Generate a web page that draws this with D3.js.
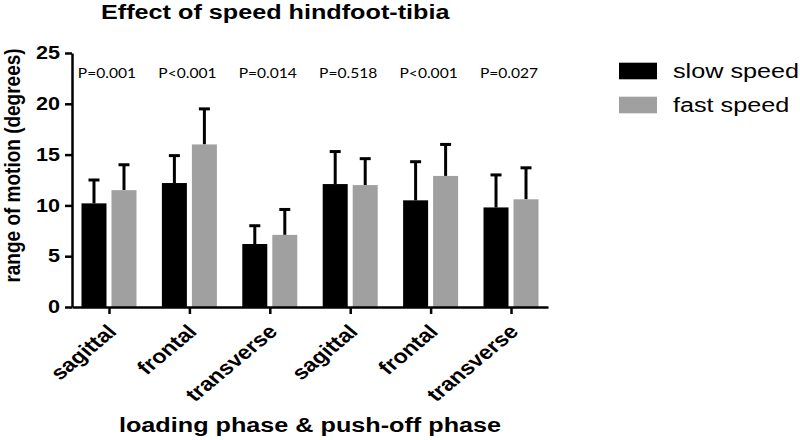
<!DOCTYPE html>
<html>
<head>
<meta charset="utf-8">
<script src="https://cdn.jsdelivr.net/npm/d3@7"></script>
<style>
  html, body { margin: 0; padding: 0; background: #fff; }
  svg { display: block; }
</style>
</head>
<body>
<svg id="chart" width="800" height="440"></svg>
<script>
// ---- data ----
const categories = ["sagittal", "frontal", "transverse", "sagittal", "frontal", "transverse"];
const seriesNames = ["slow speed", "fast speed"];
const slowValues = [10.2, 12.2, 6.2, 12.1, 10.5, 9.8];
const slowErrors = [2.3, 2.7, 1.8, 3.2, 3.8, 3.2];
const fastValues = [11.5, 16.0, 7.1, 12.0, 12.9, 10.6];
const fastErrors = [2.5, 3.5, 2.5, 2.6, 3.1, 3.1];
const pValues = ["P=0.001", "P<0.001", "P=0.014", "P=0.518", "P<0.001", "P=0.027"];
const yTicks = [0, 5, 10, 15, 20, 25];

const colors = { "slow speed": "#000000", "fast speed": "#a0a0a0" };
const FONT = "'Liberation Sans', Arial, sans-serif";
const SX = 1.2; // horizontal stretch of the reference image

const svg = d3.select("#chart");
const mLeft = 72, mRight = 548, mTop = 53, mBottom = 307;

const idx = d3.range(categories.length);
const x0 = d3.scalePoint().domain(idx).range([mLeft, mRight]).padding(0.46);
const x1 = d3.scaleBand().domain(seriesNames).range([-27.5, 27.5]).paddingInner(1/6);
const y = d3.scaleLinear().domain([0, 25]).range([mBottom, mTop]);

const rows = idx.map(i => ({
  i,
  series: [
    { name: "slow speed", v: slowValues[i], e: slowErrors[i] },
    { name: "fast speed", v: fastValues[i], e: fastErrors[i] }
  ]
}));

const g = svg.append("g");
const groups = g.selectAll("g.grp").data(rows).join("g")
  .attr("class", "grp")
  .attr("transform", d => `translate(${x0(d.i)},0)`);

groups.selectAll("g.err").data(d => d.series).join("g").attr("class", "err")
  .each(function(d) {
    const cx = x1(d.name) + x1.bandwidth() / 2;
    const sel = d3.select(this);
    sel.append("line")
      .attr("x1", cx).attr("x2", cx)
      .attr("y1", y(d.v)).attr("y2", y(d.v + d.e))
      .attr("stroke", "#000").attr("stroke-width", 3);
    sel.append("line")
      .attr("x1", cx - 5.5).attr("x2", cx + 5.5)
      .attr("y1", y(d.v + d.e)).attr("y2", y(d.v + d.e))
      .attr("stroke", "#000").attr("stroke-width", 3);
  });

groups.selectAll("rect").data(d => d.series).join("rect")
  .attr("x", d => x1(d.name))
  .attr("width", x1.bandwidth())
  .attr("y", d => y(d.v))
  .attr("height", d => y(0) - y(d.v))
  .attr("fill", d => colors[d.name]);

// y axis
const yAxis = svg.append("g")
  .attr("transform", `translate(${mLeft},0)`)
  .call(d3.axisLeft(y).tickValues(yTicks).tickSize(7).tickSizeOuter(0).tickPadding(12));
yAxis.select(".domain").attr("stroke-width", 2.5);
yAxis.selectAll(".tick line").attr("stroke-width", 2.5);
yAxis.selectAll(".tick text")
  .attr("font-family", FONT).attr("font-weight", "bold").attr("font-size", 18)
  .attr("fill", "#000")
  .attr("x", -12 / SX)
  .attr("transform", `scale(${SX},1)`);

// x axis
const xAxis = svg.append("g")
  .attr("transform", `translate(0,${mBottom})`)
  .call(d3.axisBottom(x0).tickSize(7).tickSizeOuter(0).tickFormat(""));
xAxis.select(".domain").attr("stroke-width", 2.5);
xAxis.selectAll(".tick line").attr("stroke-width", 2.5);

// rotated category labels
svg.append("g").selectAll("text").data(idx).join("text")
  .attr("transform", i => `translate(${x0(i) + 3},${mBottom + 21}) scale(${SX},1) rotate(-45)`)
  .attr("text-anchor", "end")
  .attr("dy", "0.35em")
  .attr("font-family", FONT).attr("font-weight", "bold").attr("font-size", 19.5)
  .text(i => categories[i]);

// p-values
svg.append("g").selectAll("text").data(idx).join("text")
  .attr("transform", i => `translate(${x0(i) - 2},77.5) scale(${SX},1)`)
  .attr("text-anchor", "middle")
  .attr("font-family", "Lato, 'Open Sans', sans-serif").attr("font-size", 13)
  .text(i => pValues[i]);

// title
svg.append("text")
  .attr("transform", `translate(101,19) scale(${SX},1)`)
  .attr("font-family", FONT).attr("font-weight", "bold").attr("font-size", 21)
  .text("Effect of speed hindfoot-tibia");

// y-axis title
svg.append("text")
  .attr("transform", `translate(20,165.5) rotate(-90) scale(1,${SX})`)
  .attr("text-anchor", "middle")
  .attr("font-family", FONT).attr("font-weight", "bold").attr("font-size", 19)
  .text("range of motion (degrees)");

// x-axis title
svg.append("text")
  .attr("transform", `translate(310,432) scale(${SX},1)`)
  .attr("text-anchor", "middle")
  .attr("font-family", FONT).attr("font-weight", "bold").attr("font-size", 21)
  .text("loading phase & push-off phase");

// legend
const legend = svg.append("g").selectAll("g").data(seriesNames).join("g")
  .attr("transform", (d, i) => `translate(619,${62.7 + i * 34})`);
legend.append("rect")
  .attr("width", 38).attr("height", 16.6)
  .attr("fill", d => colors[d]);
legend.append("text")
  .attr("transform", `translate(54,15) scale(${SX},1)`)
  .attr("font-family", FONT).attr("font-size", 21)
  .text(d => d);
</script>
</body>
</html>
